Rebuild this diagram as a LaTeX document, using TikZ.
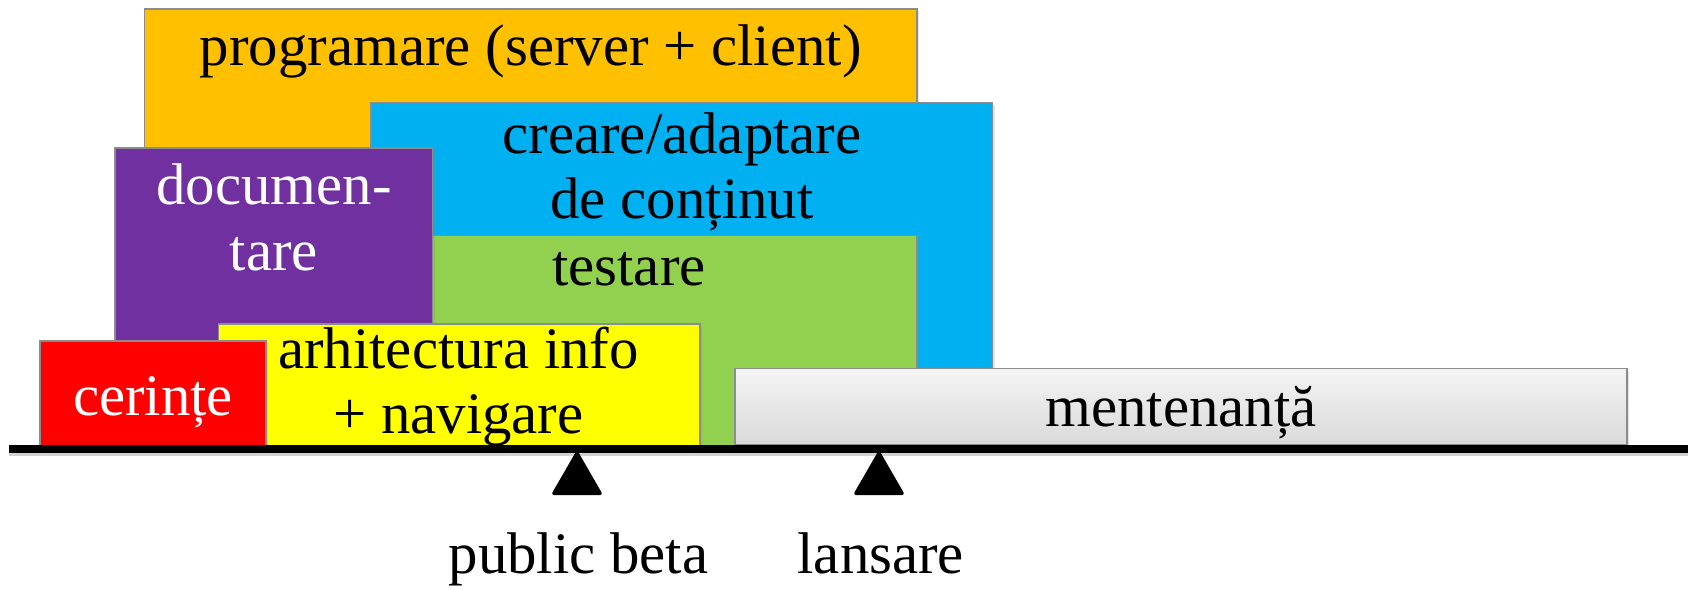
\documentclass[tikz,border=0pt]{standalone}
\usepackage{fontspec}
\setmainfont{Liberation Serif}
\usetikzlibrary{fit,shapes.geometric,shadows}
\definecolor{cOrange}{HTML}{FFC000}
\definecolor{cBlue}{HTML}{00B0F0}
\definecolor{cPurple}{HTML}{7030A0}
\definecolor{cGreen}{HTML}{92D050}
\definecolor{cYellow}{HTML}{FFFF00}
\definecolor{cRed}{HTML}{FF0000}
\definecolor{cGrayTop}{HTML}{F4F4F4}
\definecolor{cGrayBot}{HTML}{DADADA}
\definecolor{cBorder}{HTML}{8C8C8C}
\begin{document}
\begin{tikzpicture}[x=0.5pt,y=-0.5pt,
  box/.style={draw=cBorder, line width=0.7pt, inner sep=0pt,
    drop shadow={shadow xshift=1.2pt, shadow yshift=-1.2pt, opacity=0.22}},
  lbl/.style={anchor=base, inner sep=0pt, font=\fontsize{29.4}{35}\selectfont},
  marker/.style={regular polygon, regular polygon sides=3, fill=black, draw=black,
    line width=0.8pt, rounded corners=1pt, inner sep=0pt, minimum size=28.5pt},
  timeline/.style={line width=3.7pt, black}]
\useasboundingbox (0,0) rectangle (1692,589);
% boxes
\node[box, fill=cOrange, fit={(144.6,9) (917,447)}] (prog) {};
\node[box, fill=cBlue, fit={(371,102.5) (992.5,447)}] (cont) {};
\node[box, fill=cGreen, fit={(341,235.5) (917,447)}] (test) {};
\node[box, fill=cPurple, fit={(115,148) (432.5,447)}] (doc) {};
\node[box, fill=cYellow, fit={(218.5,324) (700,447)}] (arch) {};
\node[box, fill=cRed, fit={(40,341) (266,447)}] (cer) {};
\node[box, top color=cGrayTop, bottom color=cGrayBot, fit={(735,368.5) (1627,445)}] (ment) {};
% labels
\node[lbl] (progT) at (530.8,65) {programare (server + client)};
\node[lbl] (contT1) at (682,153.3) {creare/adaptare};
\node[lbl] (contT2) at (682,218.3) {de conținut};
\node[lbl, white] (docT1) at (274,204) {documen-};
\node[lbl, white] (docT2) at (274,270.7) {tare};
\node[lbl] (testT) at (629,285) {testare};
\node[lbl] (archT1) at (458.5,368.3) {arhitectura info};
\node[lbl] (archT2) at (458.5,433.3) {+ navigare};
\node[lbl, white] (cerT) at (153,415) {cerințe};
\node[lbl] (mentT) at (1181,426.7) {mentenanță};
% timeline
\coordinate (ls) at (8.6,449);
\coordinate (le) at (1688,449);
\draw[line width=3pt, black, opacity=0.18] ([yshift=-2pt]ls) -- ([yshift=-2pt]le);
\draw[timeline] (ls) -- (le);
% milestones
\node[marker] (pbM) at (577,480) {};
\node[marker] (lnM) at (879,480) {};
\node[lbl] (pbT) at (578.5,573.3) {public beta};
\node[lbl] (lnT) at (880.8,573.3) {lansare};
\end{tikzpicture}
\end{document}
